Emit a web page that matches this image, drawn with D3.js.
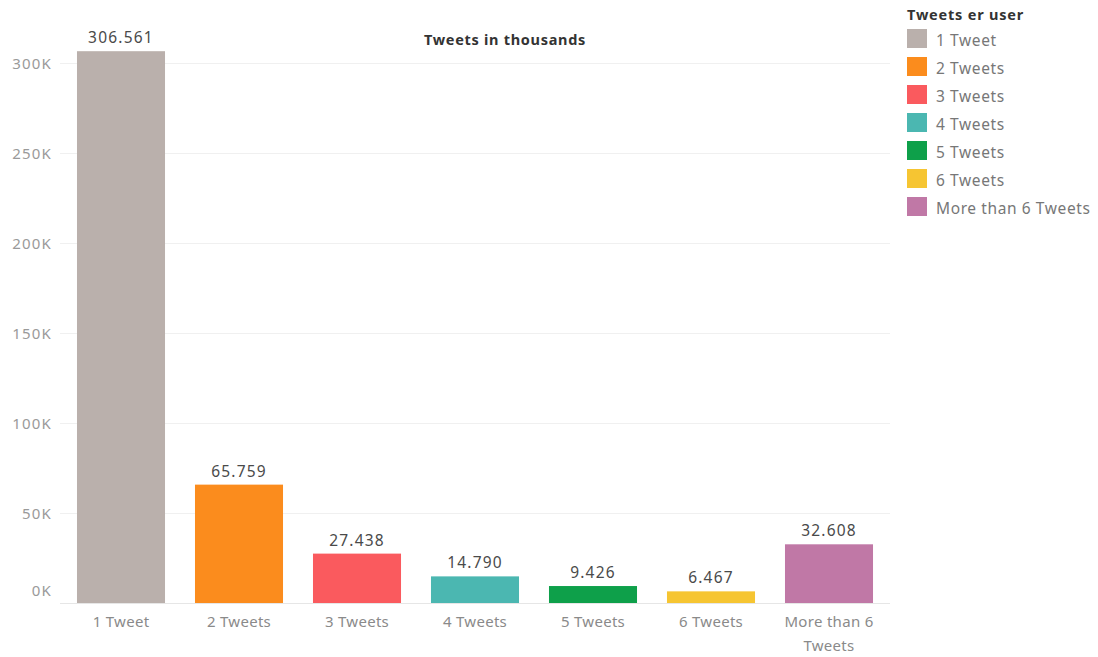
<!DOCTYPE html>
<html>
<head>
<meta charset="utf-8">
<script src="https://cdn.jsdelivr.net/npm/d3@7"></script>
<style>
  body { margin: 0; background: #fff; }
  svg { display: block; font-family: "Noto Sans", "Open Sans", sans-serif; }
</style>
</head>
<body>
<svg id="chart" width="1098" height="657"></svg>
<script>
// Tweets per user, values in thousands
const categories = ["1 Tweet", "2 Tweets", "3 Tweets", "4 Tweets", "5 Tweets", "6 Tweets", "More than 6 Tweets"];
const values = [306.561, 65.759, 27.438, 14.790, 9.426, 6.467, 32.608];
const colors = ["#BAB0AC", "#FB8C1D", "#FA5A5E", "#4BB7B1", "#0EA04A", "#F6C532", "#C078A6"];
const yTicks = [0, 50, 100, 150, 200, 250, 300];
const xLabelLines = [["1 Tweet"], ["2 Tweets"], ["3 Tweets"], ["4 Tweets"], ["5 Tweets"], ["6 Tweets"], ["More than 6", "Tweets"]];

const svg = d3.select("#chart");
const plot = { left: 62, right: 888, top: 30, bottom: 603 };

const x = d3.scaleBand().domain(categories).range([plot.left, plot.right]).paddingInner(0.254).paddingOuter(0.127);
const y = d3.scaleLinear().domain([0, 300]).range([plot.bottom, 63]);

// gridlines
svg.append("g").selectAll("line").data(yTicks.filter(d => d > 0)).join("line")
  .attr("x1", 60).attr("x2", 890)
  .attr("y1", d => y(d) + 0.5).attr("y2", d => y(d) + 0.5)
  .attr("stroke", "#f0f0f0").attr("stroke-width", 1);

// baseline
svg.append("line").attr("x1", 60).attr("x2", 890)
  .attr("y1", plot.bottom + 0.5).attr("y2", plot.bottom + 0.5)
  .attr("stroke", "#e6e6e6");

// y axis labels
svg.append("g").selectAll("text").data(yTicks).join("text")
  .attr("x", 52)
  .attr("y", d => d === 0 ? y(d) - 11 : y(d) + 2)
  .attr("text-anchor", "end").attr("dominant-baseline", "middle")
  .attr("font-size", 15).attr("letter-spacing", 1.2).attr("fill", "#9a9a9a")
  .text(d => d + "K");

// bars
svg.append("g").selectAll("rect").data(values).join("rect")
  .attr("x", (d, i) => x(categories[i]))
  .attr("width", x.bandwidth())
  .attr("y", d => y(d))
  .attr("height", d => y(0) - y(d))
  .attr("fill", (d, i) => colors[i]);

// value labels
svg.append("g").selectAll("text").data(values).join("text")
  .attr("x", (d, i) => x(categories[i]) + x.bandwidth() / 2)
  .attr("y", d => y(d) - 8)
  .attr("text-anchor", "middle")
  .attr("font-size", 15.5).attr("letter-spacing", 1.2).attr("fill", "#4a4a4a")
  .text(d => d.toFixed(3));

// x axis labels
const xl = svg.append("g").selectAll("text").data(xLabelLines).join("text")
  .attr("x", (d, i) => x(categories[i]) + x.bandwidth() / 2)
  .attr("y", 627)
  .attr("text-anchor", "middle")
  .attr("font-size", 15).attr("letter-spacing", 0.3).attr("fill", "#8a8a8a");
xl.selectAll("tspan").data(d => d).join("tspan")
  .attr("x", function () { return d3.select(this.parentNode).attr("x"); })
  .attr("dy", (d, j) => j === 0 ? 0 : 24)
  .text(d => d);

// title
svg.append("text").attr("x", 505).attr("y", 45)
  .attr("text-anchor", "middle").attr("font-size", 14.5).attr("letter-spacing", 0.7)
  .attr("font-weight", "bold").attr("fill", "#333")
  .text("Tweets in thousands");

// legend
const legend = svg.append("g").attr("transform", "translate(907,0)");
legend.append("text").attr("x", 0).attr("y", 20)
  .attr("font-size", 14.5).attr("font-weight", "bold").attr("letter-spacing", 0.8).attr("fill", "#333")
  .text("Tweets er user");
const rows = legend.selectAll("g.row").data(categories).join("g")
  .attr("class", "row")
  .attr("transform", (d, i) => `translate(0,${29 + i * 28})`);
rows.append("rect").attr("width", 20).attr("height", 19)
  .attr("fill", (d, i) => colors[i]);
rows.append("text").attr("x", 29).attr("y", 17)
  .attr("font-size", 15.5).attr("letter-spacing", 0.6).attr("fill", "#777")
  .text(d => d);
</script>
</body>
</html>
